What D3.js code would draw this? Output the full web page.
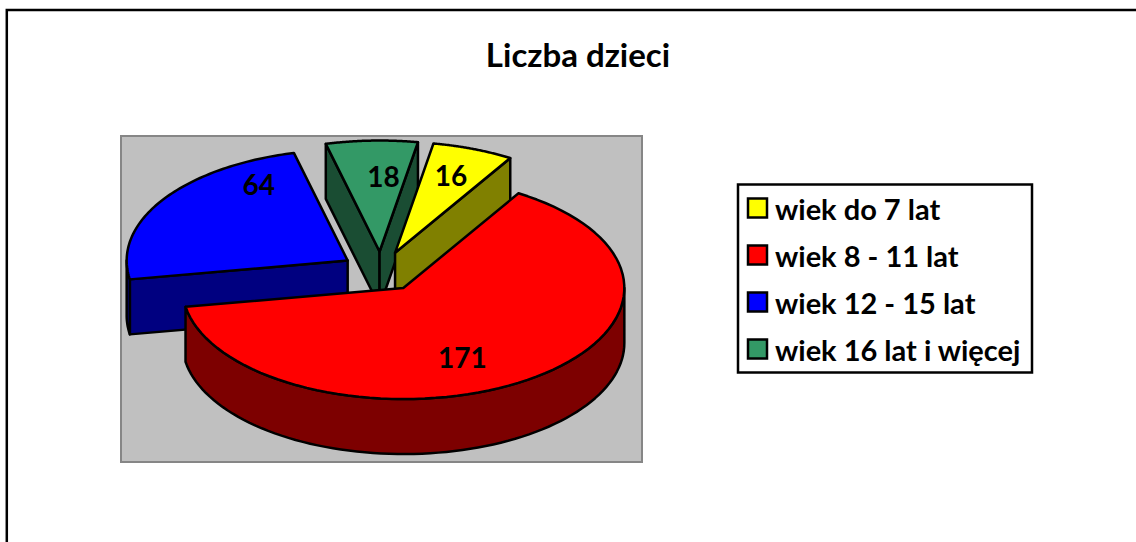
<!DOCTYPE html>
<html>
<head>
<meta charset="utf-8">
<title>Liczba dzieci</title>
<script src="https://cdnjs.cloudflare.com/ajax/libs/d3/7.8.5/d3.min.js"></script>
<style>
  html, body { margin: 0; padding: 0; background: #fff; overflow: hidden; }
  svg { display: block; }
  text { font-family: Lato, "Open Sans", sans-serif; font-weight: bold; fill: #000; }
</style>
</head>
<body>
<svg id="chart" width="1136" height="542"></svg>
<script>
var categories = ["wiek do 7 lat", "wiek 8 - 11 lat", "wiek 12 - 15 lat", "wiek 16 lat i więcej"];
var values = [16, 171, 64, 18];
var topColors = ["#ffff00", "#ff0000", "#0000ff", "#339966"];
var wallColors = ["#808000", "#7d0000", "#000080", "#1a4d33"];
// label position relative to the tip of each slice
var labelOffsets = [[56, -75], [59, 72], [-89, -74], [4, -73]];

var svg = d3.select("#chart")
  , rad = Math.PI / 180
  , explode = 0.18
  , depth = 55;

// unit circle -> screen, pie is squashed so x and y get their own scale
var xScale = d3.scaleLinear().domain([-1, 1]).range([160, 602]);
var yScale = d3.scaleLinear().domain([-1, 1]).range([160.5, 382.5]);

var pie = d3.pie().sort(null).startAngle(10 * rad).endAngle(370 * rad);
var slices = pie(values);
var line = d3.line();

function tipOf(s){
  var mid = (s.startAngle + s.endAngle) / 2;
  return [Math.sin(mid) * explode, -Math.cos(mid) * explode];
}
function project(s, angle, radius, drop){
  var t = tipOf(s);
  return [
    xScale(t[0] + Math.sin(angle) * radius),
    yScale(t[1] - Math.cos(angle) * radius) + (drop || 0)
  ];
}
function arcPoints(s, a0, a1, drop){
  return d3.range(0, 81).map(function(i){
    return project(s, a0 + (a1 - a0) * i / 80, 1, drop);
  });
}
function topPath(s){
  return line([project(s, 0, 0)].concat(arcPoints(s, s.startAngle, s.endAngle))) + "Z";
}
function edgeWall(s, angle){
  return line([
    project(s, 0, 0), project(s, angle, 1),
    project(s, angle, 1, depth), project(s, 0, 0, depth)
  ]) + "Z";
}
// part of the rim that faces the viewer (90 to 270 degrees)
function rimPath(s){
  var a0 = Math.max(s.startAngle, 90 * rad)
    , a1 = Math.min(s.endAngle, 270 * rad);
  if (a0 >= a1) return null;
  return line(arcPoints(s, a0, a1).concat(arcPoints(s, a1, a0, depth))) + "Z";
}

// outer frame
svg.append("rect")
  .attr("x", 6.8).attr("y", 10)
  .attr("width", 1160).attr("height", 560)
  .attr("fill", "#fff")
  .attr("stroke", "#000")
  .attr("stroke-width", 2.5);

svg.append("text")
  .attr("x", 578)
  .attr("y", 67)
  .attr("text-anchor", "middle")
  .style("font-size", "33px")
  .text("Liczba dzieci");

// plot area
svg.append("rect")
  .attr("x", 121).attr("y", 136)
  .attr("width", 521).attr("height", 326)
  .attr("fill", "#c0c0c0")
  .attr("stroke", "#868686")
  .attr("stroke-width", 2);

// back to front: blue, green, yellow, red
var order = [2, 3, 0, 1];
var pieG = svg.append("g")
  .attr("stroke", "#000")
  .attr("stroke-width", 2.5)
  .attr("stroke-linejoin", "round");

order.forEach(function(i){
  var s = slices[i]
    , g = pieG.append("g")
    , walls = [];

  // a cut face is visible only if its outward normal looks down the screen
  if (Math.sin(s.startAngle) < 0) walls.push(edgeWall(s, s.startAngle));
  if (Math.sin(s.endAngle) > 0) walls.push(edgeWall(s, s.endAngle));
  var rim = rimPath(s);
  if (rim) walls.push(rim);

  g.selectAll("path.wall")
    .data(walls)
    .enter().append("path")
    .attr("class", "wall")
    .attr("d", function(d){ return d; })
    .attr("fill", wallColors[i]);

  g.append("path")
    .attr("d", topPath(s))
    .attr("fill", topColors[i]);
});

svg.selectAll("text.value")
  .data(slices)
  .enter().append("text")
  .attr("class", "value")
  .attr("text-anchor", "middle")
  .attr("x", function(d, i){ return project(d, 0, 0)[0] + labelOffsets[i][0]; })
  .attr("y", function(d, i){ return project(d, 0, 0)[1] + labelOffsets[i][1] + 8; })
  .style("font-size", "28px")
  .text(function(d){ return d.value; });

// legend
var legendY = d3.scaleBand().domain(categories).range([184.5, 372.5]);
var legend = svg.append("g");

legend.append("rect")
  .attr("x", 738).attr("y", 184.5)
  .attr("width", 294).attr("height", 188)
  .attr("fill", "#fff")
  .attr("stroke", "#000")
  .attr("stroke-width", 2.5);

var rows = legend.selectAll("g.row")
  .data(categories)
  .enter().append("g")
  .attr("class", "row")
  .attr("transform", function(d){ return "translate(0," + (legendY(d) + legendY.bandwidth() / 2) + ")"; });

rows.append("rect")
  .attr("x", 748).attr("y", -9.5)
  .attr("width", 19).attr("height", 19)
  .attr("fill", function(d, i){ return topColors[i]; })
  .attr("stroke", "#000")
  .attr("stroke-width", 2.5);

rows.append("text")
  .attr("x", 775)
  .attr("y", 12)
  .style("font-size", "29px")
  .text(function(d){ return d; });
</script>
</body>
</html>
